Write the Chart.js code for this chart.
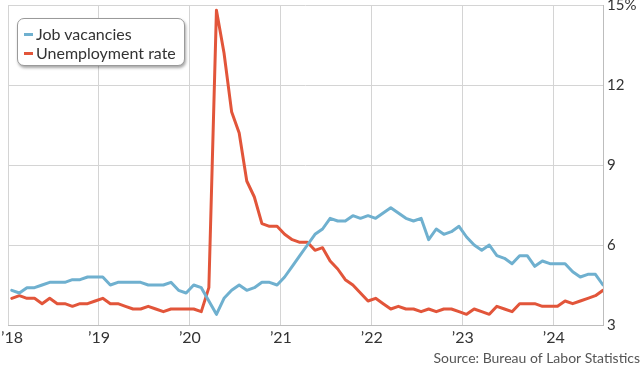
<!DOCTYPE html>
<html>
<head>
<meta charset="utf-8">
<script src="https://cdn.jsdelivr.net/npm/chart.js@4/dist/chart.umd.min.js"></script>
<style>
  html, body { margin: 0; padding: 0; background: #fff; }
  #wrap { position: relative; width: 640px; height: 374px; }
  #legend {
    position: absolute; left: 17px; top: 18px; width: 168px; height: 48px;
    border: 1px solid #9a9a9a; border-radius: 7px; background: #fff;
    box-shadow: 1px 2px 3px rgba(0,0,0,0.35);
    font-family: Lato, sans-serif; font-size: 16px; color: #333; white-space: nowrap;
    box-sizing: border-box; padding: 5px 0 0 6px; line-height: 19px;
  }
  #legend .mk { display: inline-block; width: 9px; height: 3px; margin-right: 3px; vertical-align: middle; position: relative; top: -1px; }
</style>
</head>
<body>
<div id="wrap">
  <canvas id="myChart" width="640" height="374"></canvas>
  <div id="legend"></div>
</div>
<script>
// monthly values, Jan 2018 - Jul 2024
const vacancies = [
  4.3, 4.2, 4.4, 4.4, 4.5, 4.6, 4.6, 4.6, 4.7, 4.7, 4.8, 4.8,
  4.8, 4.5, 4.6, 4.6, 4.6, 4.6, 4.5, 4.5, 4.5, 4.6, 4.3, 4.2,
  4.5, 4.4, 3.9, 3.4, 4.0, 4.3, 4.5, 4.3, 4.4, 4.6, 4.6, 4.5,
  4.8, 5.2, 5.6, 6.0, 6.4, 6.6, 7.0, 6.9, 6.9, 7.1, 7.0, 7.1,
  7.0, 7.2, 7.4, 7.2, 7.0, 6.9, 7.0, 6.2, 6.6, 6.4, 6.5, 6.7,
  6.3, 6.0, 5.8, 6.0, 5.6, 5.5, 5.3, 5.6, 5.6, 5.2, 5.4, 5.3,
  5.3, 5.3, 5.0, 4.8, 4.9, 4.9, 4.5
]
const unemployment = [
  4.0, 4.1, 4.0, 4.0, 3.8, 4.0, 3.8, 3.8, 3.7, 3.8, 3.8, 3.9,
  4.0, 3.8, 3.8, 3.7, 3.6, 3.6, 3.7, 3.6, 3.5, 3.6, 3.6, 3.6,
  3.6, 3.5, 4.4, 14.8, 13.2, 11.0, 10.2, 8.4, 7.8, 6.8, 6.7, 6.7,
  6.4, 6.2, 6.1, 6.1, 5.8, 5.9, 5.4, 5.1, 4.7, 4.5, 4.2, 3.9,
  4.0, 3.8, 3.6, 3.7, 3.6, 3.6, 3.5, 3.6, 3.5, 3.6, 3.6, 3.5,
  3.4, 3.6, 3.5, 3.4, 3.7, 3.6, 3.5, 3.8, 3.8, 3.8, 3.7, 3.7,
  3.7, 3.9, 3.8, 3.9, 4.0, 4.1, 4.3
]
const yearLabels = ['’18', '’19', '’20', '’21', '’22', '’23', '’24']
const seriesNames = ['Job vacancies', 'Unemployment rate']
const colors = ['#6fb0cf', '#e2553a']

// points sit mid-month, x in months from Jan 2018
const toPoints = arr => arr.map((v, i) => ({ x: i + 0.5, y: v }))

const ctx = document.getElementById('myChart')
const myChart = new Chart(ctx, {
  type: 'line',
  data: {
    datasets: [
      { label: seriesNames[0], data: toPoints(vacancies), borderColor: colors[0], backgroundColor: colors[0] },
      { label: seriesNames[1], data: toPoints(unemployment), borderColor: colors[1], backgroundColor: colors[1] }
    ]
  },
  options: {
    responsive: false,
    animation: false,
    layout: { padding: { left: 0, right: 0, top: 0, bottom: 2 } },
    elements: {
      line: { borderWidth: 3, tension: 0, borderCapStyle: 'round', borderJoinStyle: 'round' },
      point: { radius: 0 }
    },
    plugins: {
      legend: { display: false },
      tooltip: { enabled: false },
      title: {
        display: true,
        position: 'bottom',
        align: 'end',
        text: 'Source: Bureau of Labor Statistics',
        color: '#555',
        font: { family: 'Lato', size: 14, weight: 'normal' },
        padding: { top: 0, bottom: 5 }
      }
    },
    scales: {
      x: {
        type: 'linear',
        min: 0,
        max: 78.5,
        afterBuildTicks: s => { s.ticks = yearLabels.map((l, i) => ({ value: i * 12 })) },
        afterFit: s => { s.paddingLeft = 8; s.paddingRight = 0 },
        ticks: {
          // first label nudged right, as in the original
          callback: (v) => (v === 0 ? '\u2002' : '') + yearLabels[Math.round(v / 12)],
          color: '#333',
          font: { family: 'Lato', size: 16 },
          maxRotation: 0,
          padding: 3
        },
        grid: { color: '#d4d4d4', drawTicks: false },
        border: { color: '#bdbdbd' }
      },
      y: {
        position: 'right',
        min: 3,
        max: 15,
        ticks: {
          stepSize: 3,
          callback: v => v === 15 ? v + '%' : v,
          color: '#333',
          font: { family: 'Lato', size: 15 },
          padding: 4
        },
        afterFit: s => { s.width = 37; s.paddingTop = 5 },
        grid: { color: '#d4d4d4', drawTicks: false },
        border: { color: '#bdbdbd' }
      }
    }
  }
})

// legend box drawn from the dataset names
document.getElementById('legend').innerHTML = seriesNames.map((n, i) =>
  '<div><span class="mk" style="background:' + colors[i] + '"></span>' + n + '</div>'
).join('')
</script>
</body>
</html>
